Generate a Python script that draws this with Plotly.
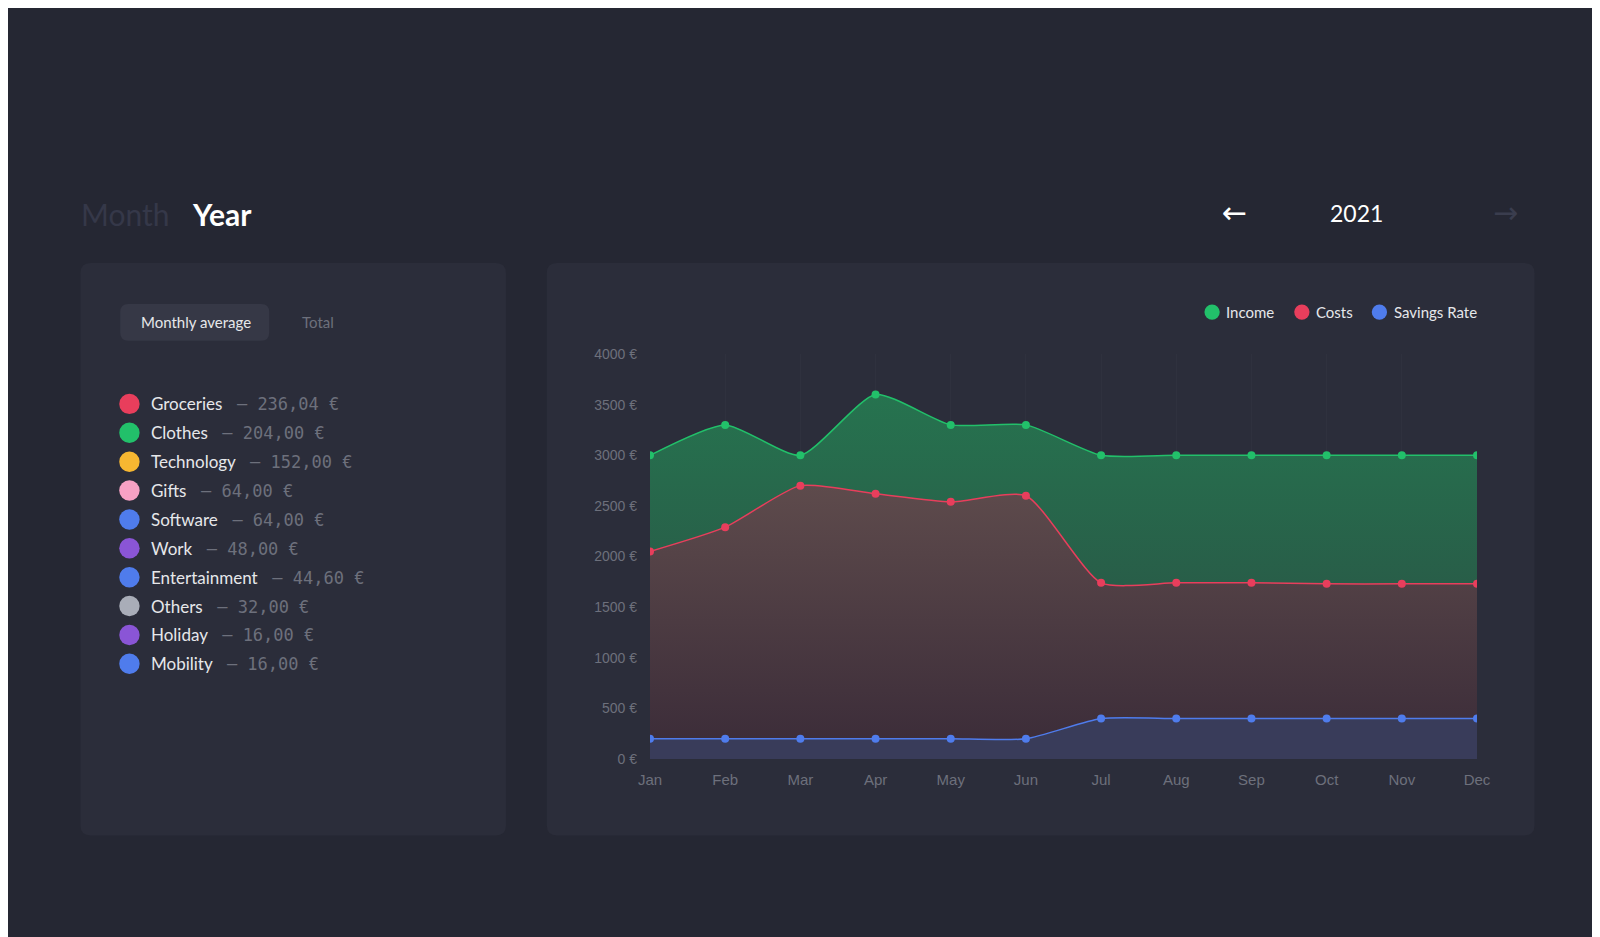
import plotly.graph_objects as go

W, H = 1600, 937
S = 1600 / 1568
ML, MR, MT, MB = round(629 * S), round(W - 1440 * S), round(339 * S), round(H - 736 * S)

months = ["Jan", "Feb", "Mar", "Apr", "May", "Jun", "Jul", "Aug", "Sep", "Oct", "Nov", "Dec"]
income = [3000, 3300, 3000, 3600, 3300, 3300, 3000, 3000, 3000, 3000, 3000, 3000]
costs = [2050, 2290, 2700, 2620, 2540, 2600, 1740, 1740, 1740, 1730, 1730, 1730]
savings = [200, 200, 200, 200, 200, 200, 400, 400, 400, 400, 400, 400]

categories = ["Groceries", "Clothes", "Technology", "Gifts", "Software", "Work",
              "Entertainment", "Others", "Holiday", "Mobility"]
cat_values = ["236,04 €", "204,00 €", "152,00 €", "64,00 €", "64,00 €", "48,00 €",
              "44,60 €", "32,00 €", "16,00 €", "16,00 €"]
cat_colors = ["#e83e5c", "#22c06a", "#f7b731", "#f7a1c4", "#4f7cec", "#8a55d6",
              "#4f7cec", "#a9adb8", "#8a55d6", "#4f7cec"]

GREEN, RED, BLUE = "#22c06a", "#e83e5c", "#4f7cec"


def px(x):
    return (x * S - ML) / (W - ML - MR)


def py(y):
    return 1 - (y * S - MT) / (H - MT - MB)


def rounded(x0, y0, x1, y1, r):
    a, b, c, d = px(x0), py(y0), px(x1), py(y1)
    rx, ry = px(x0 + r) - a, py(y0) - py(y0 + r)
    return (f"M{a+rx},{b} L{c-rx},{b} Q{c},{b} {c},{b-ry} L{c},{d+ry} Q{c},{d} {c-rx},{d} "
            f"L{a+rx},{d} Q{a},{d} {a},{d+ry} L{a},{b-ry} Q{a},{b} {a+rx},{b} Z")


fig = go.Figure()
fig.add_scatter(x=months, y=income, mode="lines+markers", fill="tozeroy",
                line=dict(color=GREEN, width=1.5, shape="spline", smoothing=0.6),
                marker=dict(size=8, color=GREEN),
                fillgradient=dict(type="vertical", colorscale=[[0, "#2a4a42"], [1, "#26734f"]]))
fig.add_scatter(x=months, y=costs, mode="lines+markers", fill="tozeroy",
                line=dict(color=RED, width=1.5, shape="spline", smoothing=0.6),
                marker=dict(size=8, color=RED),
                fillgradient=dict(type="vertical", colorscale=[[0, "#3a2b38"], [1, "#5e4b4c"]]))
fig.add_scatter(x=months, y=savings, mode="lines+markers", fill="tozeroy",
                line=dict(color=BLUE, width=1.5, shape="spline", smoothing=0.6),
                marker=dict(size=8, color=BLUE), fillcolor="#393c5a")

shapes = [
    dict(type="path", path=rounded(71, 250, 488, 811, 10), xref="paper", yref="paper",
         fillcolor="#2b2d3a", line_width=0, layer="below"),
    dict(type="path", path=rounded(528, 250, 1496, 811, 10), xref="paper", yref="paper",
         fillcolor="#2b2d3a", line_width=0, layer="below"),
    dict(type="path", path=rounded(110, 290, 256, 326, 8), xref="paper", yref="paper",
         fillcolor="#363846", line_width=0, layer="below"),
]
ann = [
    dict(x=px(70), y=py(202), text="Month", font=dict(size=30, color="#353849", family="Lato"), xanchor="left"),
    dict(x=px(178), y=py(202), text="<b>Year</b>", font=dict(size=30, color="#ffffff", family="Lato"), xanchor="left"),
    dict(x=px(1216), y=py(200), text="←", font=dict(size=30, color="#ffffff", family="DejaVu Sans")),
    dict(x=px(1349), y=py(201), text="2021", font=dict(size=23, color="#ffffff", family="Lato")),
    dict(x=px(1482), y=py(200), text="→", font=dict(size=30, color="#3a3d4e", family="DejaVu Sans")),
    dict(x=px(128), y=py(308), text="Monthly average", xanchor="left",
         font=dict(size=15, color="#e6e7ea", family="Lato")),
    dict(x=px(286), y=py(308), text="Total", xanchor="left",
         font=dict(size=15, color="#6d707c", family="Lato")),
]
for i, (name, val, col) in enumerate(zip(categories, cat_values, cat_colors)):
    y = 388 + i * 28.3
    shapes.append(dict(type="circle", xref="paper", yref="paper",
                       x0=px(109), x1=px(129), y0=py(y - 10), y1=py(y + 10),
                       fillcolor=col, line_width=0))
    ann.append(dict(x=px(138), y=py(y), xanchor="left",
                    text=f"{name}&nbsp;<span style='font-family:DejaVu Sans Mono;color:#6d707c'>&nbsp;–&nbsp;{val}</span>",
                    font=dict(size=17, color="#e6e7ea", family="Lato")))
for name, col, x in [("Income", GREEN, 1180), ("Costs", RED, 1268), ("Savings Rate", BLUE, 1344)]:
    shapes.append(dict(type="circle", xref="paper", yref="paper",
                       x0=px(x - 7.5), x1=px(x + 7.5), y0=py(298 - 7.5), y1=py(298 + 7.5),
                       fillcolor=col, line_width=0))
    ann.append(dict(x=px(x + 12), y=py(298), xanchor="left", text=name,
                    font=dict(size=15, color="#e6e7ea", family="Lato")))
for a in ann:
    a.update(xref="paper", yref="paper", showarrow=False, yanchor="middle")

fig.update_layout(
    width=W, height=H, margin=dict(l=ML, r=MR, t=MT, b=MB),
    paper_bgcolor="#252733", plot_bgcolor="rgba(0,0,0,0)", showlegend=False,
    shapes=shapes, annotations=ann,
    font=dict(family="Liberation Sans", color="#6d707c", size=14),
)
fig.update_xaxes(showgrid=True, gridcolor="rgba(255,255,255,0.025)", zeroline=False,
                 showline=False, ticks="", ticklabelstandoff=10, range=[0, 11],
                 tickfont=dict(size=15, color="#6d707c"))
fig.update_yaxes(range=[0, 4000], dtick=500, ticksuffix=" €", showgrid=False, zeroline=False,
                 ticklabelstandoff=12, tickfont=dict(size=14, color="#6d707c"))
fig.write_html("out.html")
